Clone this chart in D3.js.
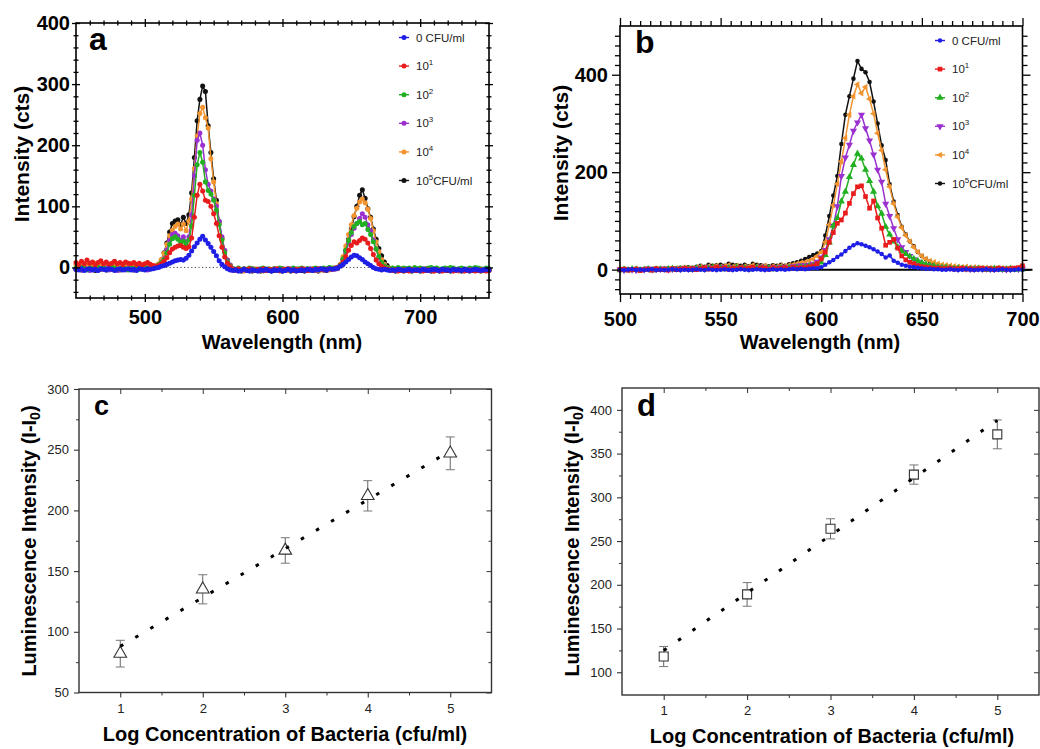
<!DOCTYPE html>
<html>
<head>
<meta charset="utf-8">
<script src="https://cdn.jsdelivr.net/npm/d3@7"></script>
<style>
  body { margin: 0; background: #fff; }
  svg { display: block; }
</style>
</head>
<body>
<svg id="fig" width="1040" height="749"></svg>
<script>
// ---- data -------------------------------------------------------------
const seriesLabels = [['0 CFU/ml', '', ''], ['10', '1', ''], ['10', '2', ''], ['10', '3', ''], ['10', '4', ''], ['10', '5', 'CFU/ml']]
const seriesColors = ['#1e1ee6', '#e81c1c', '#22b022', '#9a30d0', '#f29430', '#111111']

// panel a: 450..750 nm, one value every 2 nm
const aStart = 450, aStep = 2
const aBlue = [
  -3,-4,-2,-5,-3,-2,-4,-3,-5,-2, -3,-4,-2,-3,-5,-3,-2,-4,-3,-2, -4,-3,-5,-2,-3,-4,-2,-3,-2,-1,
  0,2,3,5,7,9,11,12,13,12,15,
  20,27,34,40,46,51,45,39,33,26,19,11,5,1,-2,-4,
  -5,-4,-6,-5,-3,-5,-6,-4,-5,-6, -4,-5,-3,-5,-6,-4,-5,-4,-6,-5, -3,-5,-4,-6,-5,-4,-5,-3,-4,-5, -3,-4,-2,-3,-4,-2,-3,-2,
  -1,2,5,9,13,17,20,19,16,13,9,6,3,0,-2,-3,-4,-3,-4,-5,
  -4,-5,-3,-4,-5,-4,-3,-5,-4,-4, -5,-3,-4,-5,-4,-3,-4,-5,-3,-4, -4,-5,-3,-4,-4,-5,-3,-4,-5,-4, -3,-4,-5,-4,-3,-4]
const aRed = [
  8,5,10,6,12,7,9,4,8,11, 6,9,5,7,10,6,8,5,9,7, 6,8,5,7,4,6,8,5,3,2,
  3,6,10,16,24,30,33,35,36,33,31,
  34,48,82,118,136,125,110,108,100,88,72,52,33,17,7,1,
  -3,-4,-2,-5,-3,-4,-2,-4,-5,-3, -4,-2,-5,-3,-4,-3,-2,-5,-4,-3, -2,-4,-5,-3,-4,-2,-3,-5,-4,-3, -4,-2,-3,-4,-3,-2,-3,-2,
  0,3,9,18,28,36,42,40,44,48,46,40,31,21,12,6,2,-1,-3,-4,
  -5,-4,-6,-5,-4,-5,-6,-4,-5,-5, -4,-6,-5,-4,-5,-6,-4,-5,-6,-5, -4,-5,-6,-5,-4,-5,-6,-5,-4,-5, -6,-5,-4,-5,-6,-5]
const aGreen = [
  -1,-3,0,-2,-4,-1,-2,-3,0,-2, -1,-3,-2,0,-1,-3,-2,-1,-2,-4, -1,-2,0,-3,-1,-2,-1,0,1,2,
  4,8,13,24,38,47,50,46,41,43,38,
  45,68,118,168,188,172,140,126,120,110,94,70,45,24,9,2,
  -2,-3,-1,-4,-2,-3,-1,-2,-4,-3, -2,-1,-3,-2,-4,-2,-3,-1,-2,-3, -2,-4,-1,-3,-2,-1,-3,-2,-4,-2, -1,-3,-2,-1,-2,0,-1,-2,
  -1,4,14,28,44,57,67,72,75,70,72,62,54,42,30,18,8,2,-1,-2,
  -1,-2,0,-3,-1,-2,-1,-3,0,-2, -1,-2,-3,-1,0,-2,-1,-3,-2,-1, -2,0,-1,-3,-2,-1,-2,-3,-1,-2, 0,-1,-2,-3,-1,-2]
const aPurple = [
  -3,-2,-4,-1,-3,-5,-2,-3,-4,-2, -3,-1,-4,-3,-2,-5,-3,-2,-4,-3, -2,-4,-3,-1,-3,-2,-4,-2,-1,0,
  3,7,14,28,44,54,56,52,45,50,42,
  50,86,150,208,220,200,160,136,125,112,100,75,50,28,11,3,
  -2,-4,-3,-5,-2,-4,-3,-2,-5,-3, -4,-2,-3,-5,-4,-2,-3,-4,-2,-5, -3,-2,-4,-3,-5,-2,-3,-4,-2,-3, -4,-2,-3,-2,-4,-1,-2,-3,
  -2,3,12,25,40,54,64,72,80,88,82,70,60,45,30,16,7,2,-2,-3,
  -3,-4,-2,-3,-5,-2,-4,-3,-2,-4, -3,-5,-2,-3,-4,-2,-3,-5,-4,-2, -3,-4,-2,-5,-3,-2,-4,-3,-2,-4, -3,-2,-4,-3,-5,-3]
const aOrange = [
  4,2,6,3,5,1,4,7,3,5, 2,6,4,3,5,2,7,4,3,5, 2,4,3,1,4,2,3,1,2,3,
  6,13,23,38,52,61,67,71,63,71,60,
  76,112,162,215,252,262,245,228,178,140,104,72,47,27,11,3,
  -3,-5,-2,-4,-6,-3,-5,-4,-2,-5, -4,-6,-3,-5,-4,-2,-5,-6,-3,-4, -5,-3,-4,-6,-5,-3,-4,-2,-5,-4, -3,-5,-4,-2,-3,-4,-2,-1,
  0,5,18,35,54,70,85,97,107,112,106,95,80,60,42,26,13,5,0,-2,
  -3,-5,-4,-2,-6,-4,-3,-5,-4,-3, -5,-4,-2,-5,-3,-6,-4,-3,-5,-4, -2,-5,-4,-3,-6,-4,-5,-3,-4,-5, -3,-4,-6,-4,-3,-5]
const aBlack = [
  -3,-1,-4,-2,0,-3,-2,-5,-1,-3, -2,-4,-1,-3,-2,-1,-4,-2,-3,-1, -2,-4,-3,-1,-2,-3,0,-2,-1,1,
  4,12,24,40,58,72,76,78,70,82,72,
  86,122,180,240,275,297,288,232,188,145,110,75,47,27,12,4,
  -2,-5,-3,-6,-4,-5,-3,-6,-5,-4, -6,-3,-5,-4,-6,-5,-3,-4,-6,-5, -4,-6,-5,-3,-4,-5,-6,-4,-3,-5, -4,-6,-3,-4,-5,-3,-2,-1,
  -1,4,13,28,46,63,83,100,118,127,113,96,82,63,46,31,19,9,3,-2,
  -4,-6,-5,-3,-6,-5,-4,-6,-3,-5, -6,-4,-5,-3,-6,-5,-4,-6,-5,-3, -5,-6,-4,-5,-3,-6,-4,-5,-6,-4, -5,-3,-6,-4,-5,-4]

// panel b: 500..700 nm, one value every 2 nm
const bStart = 500, bStep = 2
const bBlue = [
  0,-1,0,1,-1,0,-1,0,1,-1, 0,-1,0,1,0,-1,0,-1,0,1, 0,-1,1,0,-1,0,1,0,-1,0, 1,0,-1,0,1,0,-1,0,1,0, 1,0,1,2,1,2,
  1,2,3,3,5,10,15,20,26,31, 38,45,50,54,52,49,46,42,37,32, 25,29,18,14,10,8,6,5,4,3, 2,2,1,1,0,
  0,1,0,-1,0,1,0,-1,0,0, 1,0,-1,0,1,0,-1,0,1,0]
const bRed = [
  0,1,-1,0,1,-2,0,1,-1,2, 0,1,-1,2,0,1,3,1,2,0, 2,4,1,3,5,2,4,1,3,2, 4,2,3,5,2,4,3,1,4,2, 3,4,2,5,3,4,
  4,6,8,12,22,36,56,76,95,102, 116,136,156,170,172,150,126,141,106,85, 50,56,62,44,28,20,15,12,8,6, 5,4,3,3,2,
  2,3,1,2,3,1,2,0,2,3, 1,2,0,3,2,1,2,3,4,8]
const bGreen = [
  -1,0,-1,1,0,-1,0,1,-1,0, 1,0,1,2,0,1,2,1,0,2, 3,1,2,4,2,3,1,3,2,4, 2,3,1,2,4,3,2,3,1,2, 3,2,4,3,4,5,
  5,7,8,10,15,30,56,90,106,140, 160,190,215,238,228,205,182,160,130,115, 88,72,58,46,38,32,27,22,18,14, 11,9,7,5,4,
  4,3,2,3,2,1,2,1,2,1, 0,1,2,1,0,1,2,0,1,1]
const bPurple = [
  0,-1,1,0,-1,1,0,2,0,1, 1,2,0,1,2,1,3,2,1,3, 4,2,5,3,4,6,3,5,4,3, 5,4,3,5,4,6,4,3,5,4, 5,6,5,7,8,9,
  9,10,12,16,25,40,62,90,130,192, 230,256,285,302,318,290,265,236,205,180, 135,110,85,62,46,36,28,21,16,12, 9,7,6,5,4,
  4,3,3,2,3,2,1,2,2,1, 2,1,1,2,1,0,1,2,1,2]
const bOrange = [
  0,1,-1,0,2,0,1,-1,1,2, 1,0,2,1,3,2,4,3,2,5, 6,4,7,5,8,6,7,9,6,8, 5,7,6,9,7,6,8,5,7,6, 8,7,9,10,12,14,
  15,18,22,28,36,56,92,132,176,222, 270,318,356,380,362,375,350,320,280,245, 205,170,135,108,86,70,58,46,36,28, 22,18,15,12,10,
  9,8,7,6,5,6,4,5,4,3, 4,3,2,4,3,2,3,2,4,3]
const bBlack = [
  1,2,0,1,2,1,0,2,1,3, 2,1,3,2,3,4,3,5,4,6, 8,6,10,8,9,10,8,12,10,9, 8,10,7,12,10,9,8,7,9,8, 10,8,11,13,15,18,
  22,26,30,33,38,70,110,152,192,258, 318,356,392,428,412,405,385,345,300,255, 225,175,140,112,88,72,58,48,36,28, 22,17,13,10,8,
  7,6,5,4,4,3,3,2,3,2, 2,1,3,2,1,2,1,2,3,6]

// panels c and d: calibration
const logConc = [1, 2, 3, 4, 5]
const cMean = [82, 135, 167, 212, 247]
const cErr = [11, 12, 10.5, 12.5, 13.5]
const cFitX = [1, 5]
const cFitY = [88, 249]
const dMean = [118, 189, 264, 326, 372]
const dErr = [11.5, 13.5, 11.5, 11, 16.5]
const dFitX = [1, 5]
const dFitY = [125, 388]

// ---- drawing ----------------------------------------------------------
const FONT = '"Liberation Sans", Arial, Helvetica, sans-serif'
const svg = d3.select('#fig').style('font-family', FONT)

function addAxis(g, side, scale, values, o) {
  const make = { bottom: d3.axisBottom, top: d3.axisTop, left: d3.axisLeft, right: d3.axisRight }[side]
  const ax = make(scale).tickValues(values).tickSizeInner(o.size).tickSizeOuter(0)
    .tickPadding(o.pad || 0).tickFormat(o.fmt || (() => ''))
  const s = g.append('g').attr('transform', `translate(${o.dx || 0},${o.dy || 0})`).call(ax)
  s.select('.domain').remove()
  s.selectAll('.tick line').attr('stroke', o.color || '#000').attr('stroke-width', o.sw || 1)
  s.selectAll('.tick text').attr('fill', o.textColor || '#000')
    .style('font-family', FONT).style('font-size', (o.fs || 12) + 'px').style('font-weight', o.fw || 'normal')
  return s
}

function notIn(list, majors) { return list.filter(v => !majors.some(m => Math.abs(m - v) < 1e-6)) }

function legend(g, x0, y0, dy, symbols) {
  seriesLabels.forEach((lab, i) => {
    const y = y0 + i * dy
    g.append('line').attr('x1', x0 - 5).attr('x2', x0 + 5).attr('y1', y).attr('y2', y)
      .attr('stroke', seriesColors[i]).attr('stroke-width', 1.4)
    g.append('path').attr('transform', `translate(${x0},${y})${symbols[i].rot || ''}`)
      .attr('d', d3.symbol(symbols[i].type, symbols[i].size)()).attr('fill', seriesColors[i])
    const t = g.append('text').attr('x', x0 + 12).attr('y', y + 4)
      .style('font-size', '11.5px').attr('fill', '#222')
    t.append('tspan').text(lab[0])
    if (lab[1]) t.append('tspan').attr('dy', -5).style('font-size', '8px').text(lab[1])
    if (lab[2]) t.append('tspan').attr('dy', 5).text(lab[2])
  })
}

function spectrum(cfg) {
  const { box } = cfg
  const g = svg.append('g')
  const x = d3.scaleLinear().domain(cfg.xDomain).range([box.l, box.r])
  const y = d3.scaleLinear().domain(cfg.yDomain).range([box.b, box.t])

  // zero line
  if (cfg.zeroDotted) {
    g.append('line').attr('x1', box.l).attr('x2', box.r).attr('y1', y(0)).attr('y2', y(0))
      .attr('stroke', '#444').attr('stroke-width', 1).attr('stroke-dasharray', '1.2,2.4')
  } else {
    g.append('line').attr('x1', box.l).attr('x2', box.r + 10).attr('y1', y(0)).attr('y2', y(0))
      .attr('stroke', '#000').attr('stroke-width', 2)
  }

  // series, black first so blue ends on top
  d3.range(cfg.series.length - 1, -1, -1).forEach(i => {
    const pts = cfg.series[i].map((v, k) => [cfg.start + cfg.step * k, v])
    g.append('path').datum(pts)
      .attr('d', d3.line().x(d => x(d[0])).y(d => y(d[1])))
      .attr('fill', 'none').attr('stroke', seriesColors[i]).attr('stroke-width', 1.5)
    const sym = cfg.symbols[i]
    g.append('g').selectAll('path').data(pts).join('path')
      .attr('transform', d => `translate(${x(d[0])},${y(d[1])})${sym.rot || ''}`)
      .attr('d', d3.symbol(sym.type, sym.size)()).attr('fill', seriesColors[i])
  })

  // frame + ticks
  g.append('rect').attr('x', box.l).attr('y', box.t).attr('width', box.r - box.l).attr('height', box.b - box.t)
    .attr('fill', 'none').attr('stroke', '#000').attr('stroke-width', 1.6)

  const T = cfg.ticks
  const lab = { fmt: d3.format('d'), fs: 20, fw: 'bold' }
  const sw = 1.3
  // major / minor on four sides; cross ticks straddle the frame
  const off = T.cross
  const Lm = T.major, Ln = T.minor
  addAxis(g, 'bottom', x, T.xMajor, { ...lab, dy: box.b - (off ? Lm / 2 : 0), size: Lm, pad: T.xPad, sw })
  addAxis(g, 'bottom', x, notIn(T.xMinor, T.xMajor), { dy: box.b - (off ? Ln / 2 : 0), size: Ln, sw })
  addAxis(g, 'top', x, T.xMajor, { dy: box.t + (off ? Lm / 2 : 0), size: Lm, sw })
  addAxis(g, 'top', x, notIn(T.xMinor, T.xMajor), { dy: box.t + (off ? Ln / 2 : 0), size: Ln, sw })
  addAxis(g, 'left', y, T.yMajor, { ...lab, dx: box.l + (off ? Lm / 2 : 0), size: Lm, pad: T.yPad, sw })
  addAxis(g, 'left', y, notIn(T.yMinor, T.yMajor), { dx: box.l + (off ? Ln / 2 : 0), size: Ln, sw })
  addAxis(g, 'right', y, T.yMajor, { dx: box.r - (off ? Lm / 2 : 0), size: Lm, sw })
  addAxis(g, 'right', y, notIn(T.yMinor, T.yMajor), { dx: box.r - (off ? Ln / 2 : 0), size: Ln, sw })

  // titles
  g.append('text').attr('x', cfg.xTitle[0]).attr('y', cfg.xTitle[1]).attr('text-anchor', 'middle')
    .style('font-size', '20px').style('font-weight', 'bold').text('Wavelength (nm)')
  g.append('text').attr('transform', `translate(${cfg.yTitle[0]},${cfg.yTitle[1]}) rotate(-90)`)
    .attr('text-anchor', 'middle').style('font-size', '21px').style('font-weight', 'bold').text('Intensity (cts)')
  g.append('text').attr('x', cfg.letter[0]).attr('y', cfg.letter[1])
    .style('font-size', '32px').style('font-weight', 'bold').text(cfg.letter[2])

  legend(g, cfg.legend[0], cfg.legend[1], cfg.legend[2], cfg.symbols)
}

const dot = { type: d3.symbolCircle, size: 20 }
spectrum({
  box: { l: 76, r: 489, t: 23, b: 298 },
  xDomain: [450, 750], yDomain: [-50, 400],
  start: aStart, step: aStep,
  series: [aBlue, aRed, aGreen, aPurple, aOrange, aBlack],
  symbols: [dot, dot, dot, dot, dot, dot],
  zeroDotted: true,
  ticks: {
    cross: true, major: 8, minor: 5,
    xMajor: [500, 600, 700], xMinor: d3.range(460, 750, 10), xPad: 8,
    yMajor: [0, 100, 200, 300, 400], yMinor: d3.range(-40, 400, 20), yPad: 2
  },
  xTitle: [282, 349], yTitle: [29, 154],
  letter: [89, 50, 'a'],
  legend: [404, 37.5, 28.6]
})

spectrum({
  box: { l: 620, r: 1022.5, t: 26, b: 294 },
  xDomain: [500, 700], yDomain: [-50, 500],
  start: bStart, step: bStep,
  series: [bBlue, bRed, bGreen, bPurple, bOrange, bBlack],
  symbols: [
    { type: d3.symbolCircle, size: 16 },
    { type: d3.symbolSquare, size: 22 },
    { type: d3.symbolTriangle, size: 22 },
    { type: d3.symbolTriangle, size: 22, rot: ' rotate(180)' },
    { type: d3.symbolTriangle, size: 18, rot: ' rotate(-90)' },
    { type: d3.symbolCircle, size: 16 }
  ],
  zeroDotted: false,
  ticks: {
    cross: false, major: 8, minor: 5,
    xMajor: [500, 550, 600, 650, 700], xMinor: d3.range(505, 700, 5), xPad: 10,
    yMajor: [0, 200, 400], yMinor: d3.range(-40, 500, 20), yPad: 4
  },
  xTitle: [820, 349], yTitle: [568, 153],
  letter: [635, 53, 'b'],
  legend: [940, 40.5, 28.6]
})

function calib(cfg) {
  const { box } = cfg
  const g = svg.append('g')
  const x = d3.scaleLinear().domain([0.5, 5.5]).range([box.l, box.r])
  const y = d3.scaleLinear().domain(cfg.yDomain).range([box.b, box.t])
  const fc = '#333'
  const lab = { fmt: d3.format('d'), fs: 13, textColor: '#222', color: fc, sw: 1.1 }
  const xMinor = [1.5, 2.5, 3.5, 4.5]
  addAxis(g, 'bottom', x, logConc, { ...lab, dy: box.b, size: 5, pad: 6 })
  addAxis(g, 'bottom', x, xMinor, { dy: box.b, size: 3, color: fc })
  addAxis(g, 'top', x, logConc, { dy: box.t, size: -5, color: fc })
  addAxis(g, 'top', x, xMinor, { dy: box.t, size: -3, color: fc })
  addAxis(g, 'left', y, cfg.yMajor, { ...lab, dx: box.l, size: 5, pad: 5 })
  addAxis(g, 'left', y, cfg.yMinor, { dx: box.l, size: 3, color: fc })
  addAxis(g, 'right', y, cfg.yMajor, { dx: box.r, size: -5, color: fc })
  addAxis(g, 'right', y, cfg.yMinor, { dx: box.r, size: -3, color: fc })
  g.append('rect').attr('x', box.l).attr('y', box.t).attr('width', box.r - box.l).attr('height', box.b - box.t)
    .attr('fill', 'none').attr('stroke', fc).attr('stroke-width', 1.4)

  // error bars
  logConc.forEach((c, i) => {
    const lo = y(cfg.mean[i] - cfg.err[i]), hi = y(cfg.mean[i] + cfg.err[i]), cx = x(c)
    g.append('line').attr('x1', cx).attr('x2', cx).attr('y1', lo).attr('y2', hi).attr('stroke', '#666').attr('stroke-width', 1)
    ;[lo, hi].forEach(v => g.append('line').attr('x1', cx - 4.5).attr('x2', cx + 4.5).attr('y1', v).attr('y2', v)
      .attr('stroke', '#777').attr('stroke-width', 1))
  })
  // markers
  g.append('g').selectAll('path').data(logConc).join('path')
    .attr('transform', (c, i) => `translate(${x(c)},${y(cfg.mean[i])})`)
    .attr('d', d3.symbol(cfg.symbol, cfg.symSize)())
    .attr('fill', '#fff').attr('stroke', '#333').attr('stroke-width', 1.1)
  // dotted fit
  g.append('path').datum(cfg.fitX.map((v, i) => [v, cfg.fitY[i]]))
    .attr('d', d3.line().x(d => x(d[0])).y(d => y(d[1])))
    .attr('fill', 'none').attr('stroke', '#000').attr('stroke-width', 3).attr('stroke-dasharray', '3.5,14')

  g.append('text').attr('x', cfg.xTitle[0]).attr('y', cfg.xTitle[1]).attr('text-anchor', 'middle')
    .style('font-size', '20px').style('font-weight', 'bold').text('Log Concentration of Bacteria (cfu/ml)')
  const yt = g.append('text').attr('transform', `translate(${cfg.yTitle[0]},${cfg.yTitle[1]}) rotate(-90)`)
    .attr('text-anchor', 'middle').style('font-size', '20px').style('font-weight', 'bold')
  yt.append('tspan').text('Luminescence Intensity (I-I')
  yt.append('tspan').attr('dy', 4).style('font-size', '14px').text('0')
  yt.append('tspan').attr('dy', -4).text(')')
  g.append('text').attr('x', cfg.letter[0]).attr('y', cfg.letter[1])
    .style('font-size', cfg.letter[3] + 'px').style('font-weight', 'bold').text(cfg.letter[2])
}

calib({
  box: { l: 79, r: 491.5, t: 389, b: 692.5 },
  yDomain: [50, 300], yMajor: [50, 100, 150, 200, 250, 300], yMinor: [75, 125, 175, 225, 275],
  mean: cMean, err: cErr, fitX: cFitX, fitY: cFitY,
  symbol: d3.symbolTriangle, symSize: 70,
  xTitle: [285, 741], yTitle: [36, 541],
  letter: [94, 415, 'c', 27]
})

calib({
  box: { l: 622, r: 1039, t: 388, b: 695 },
  yDomain: [74, 425], yMajor: [100, 150, 200, 250, 300, 350, 400], yMinor: [125, 175, 225, 275, 325, 375],
  mean: dMean, err: dErr, fitX: dFitX, fitY: dFitY,
  symbol: d3.symbolSquare, symSize: 81,
  xTitle: [832, 743], yTitle: [579, 541],
  letter: [637, 416, 'd', 31]
})
</script>
</body>
</html>
